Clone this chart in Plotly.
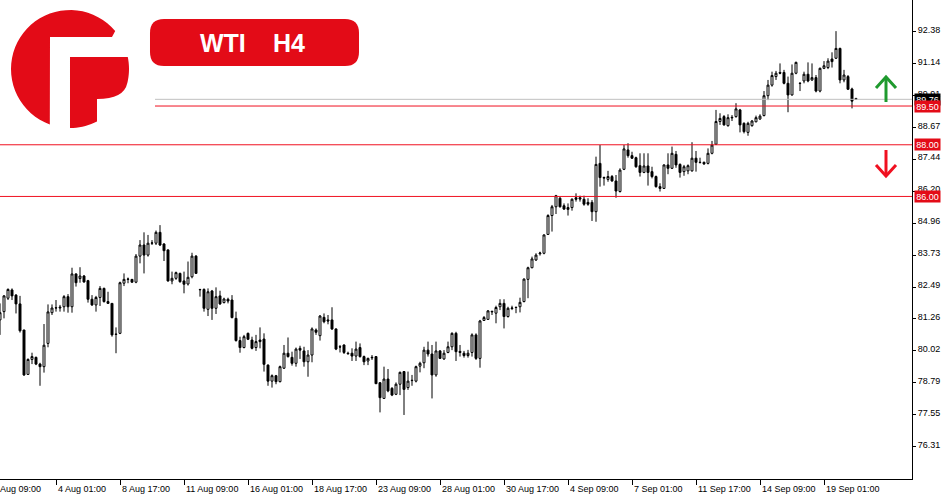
import numpy as np
import plotly.graph_objects as go

W, H = 950, 500

# ---------------- data (H4 candles, 1 Aug 17:00 .. 20 Sep 09:00) ----------------
candle_index = list(range(2, 217))
opens = [81.22,81.54,82.06,82.38,82.18,81.84,80.83,79.11,79.69,79.77,79.51,79.41,80.31,81.50,81.68,81.68,81.73,82.12,81.73,83.00,
         82.82,82.92,82.74,82.02,81.80,82.09,82.44,81.93,81.86,80.67,80.70,82.64,82.79,82.79,82.68,83.69,84.12,83.73,84.19,84.19,
         84.61,84.16,83.93,82.73,82.83,83.02,82.73,82.61,82.89,83.69,82.40,82.40,81.63,82.34,81.67,82.15,81.89,82.02,81.99,81.28,
         80.42,80.15,80.70,80.44,80.15,80.44,80.48,79.47,78.85,79.06,78.83,79.35,79.93,79.77,79.54,80.12,80.02,79.60,79.86,80.83,
         80.61,81.32,81.22,81.22,80.87,80.18,80.25,79.93,79.93,79.82,80.15,79.80,79.63,79.75,79.80,78.79,78.18,78.93,78.57,78.34,
         78.73,79.22,78.60,78.87,78.85,79.43,79.56,80.05,79.90,79.09,80.02,79.71,79.96,80.18,80.70,80.00,79.93,79.84,79.96,80.64,
         79.73,81.20,81.24,81.53,81.48,81.73,81.86,81.35,81.66,81.71,81.73,81.93,82.79,83.24,83.54,83.78,83.80,84.53,85.26,85.60,
         85.93,85.64,85.57,85.57,85.95,85.95,85.89,85.77,85.77,85.41,87.28,86.71,86.66,86.77,86.60,86.19,87.05,87.80,87.58,87.50,
         87.19,86.93,87.18,86.96,86.77,86.38,86.31,87.22,87.09,87.63,87.24,86.96,86.99,86.99,87.48,87.31,87.32,87.28,87.67,88.02,
         88.90,89.09,88.74,89.04,89.09,89.35,88.83,88.48,88.74,88.89,89.00,89.13,89.90,90.31,90.64,90.80,90.80,90.38,89.93,90.77,
         90.37,90.47,90.73,90.51,90.60,90.08,90.96,90.99,91.32,91.35,91.73,90.51,90.64,90.16,89.79]
highs = [81.86,82.18,82.44,82.44,82.22,82.15,80.83,79.73,79.95,79.80,79.56,81.06,81.82,81.82,81.99,81.80,82.18,82.22,83.24,83.02,
         83.26,82.96,82.77,82.18,82.15,82.53,82.47,82.31,81.87,80.93,82.70,83.02,82.86,82.80,83.77,84.31,84.61,84.51,84.31,84.68,
         84.89,84.19,83.95,83.09,83.09,83.05,83.09,83.48,83.82,83.73,82.42,82.44,82.44,82.38,82.48,82.35,82.08,82.08,82.18,81.54,
         80.57,80.64,80.73,80.57,80.64,80.93,80.70,79.50,79.11,79.09,79.45,80.25,80.54,79.99,80.15,80.22,80.18,80.05,80.93,80.89,
         81.41,81.47,81.41,81.71,80.89,80.25,80.27,79.99,80.12,80.38,80.31,79.84,79.76,79.86,79.82,78.80,79.41,79.32,78.62,78.80,
         79.22,79.24,79.22,79.09,79.45,79.60,80.18,80.38,80.25,80.38,80.05,80.05,80.38,80.74,80.76,80.25,80.02,80.06,80.70,80.70,
         81.22,81.37,81.60,81.57,81.77,82.02,82.02,81.73,81.77,81.73,82.08,82.83,83.28,83.67,83.80,83.86,84.53,85.31,85.67,86.06,
         85.99,85.73,85.73,85.93,86.12,86.03,86.03,85.93,85.86,87.54,87.99,86.77,86.99,86.83,86.83,87.09,87.99,88.06,87.73,87.54,
         87.67,87.67,87.67,87.15,86.81,86.51,87.24,87.67,87.93,87.76,87.28,87.22,87.24,88.10,87.76,87.50,87.35,87.86,88.15,89.35,
         89.22,89.15,89.18,89.15,89.61,89.39,88.87,88.89,88.96,89.13,89.18,90.08,90.51,90.83,90.86,91.15,90.90,90.64,91.11,91.22,
         90.42,90.83,91.19,91.15,90.70,90.99,91.24,91.35,91.58,92.40,91.76,90.90,90.70,90.21,89.82]
lows = [80.64,81.28,81.99,81.99,81.47,80.73,79.05,79.09,79.51,79.47,78.67,79.18,80.16,81.41,81.54,81.54,81.54,81.50,81.50,82.51,
        82.66,82.66,81.89,81.76,81.54,81.76,81.89,81.85,80.57,79.93,80.67,82.53,82.64,82.66,82.64,83.41,83.02,83.67,84.12,84.12,
        84.08,83.50,82.70,82.60,82.77,82.66,82.25,82.55,82.83,83.01,82.12,81.54,81.37,81.22,81.45,81.80,81.86,81.86,81.28,80.38,
        79.95,80.12,80.44,80.08,80.02,80.12,79.22,78.67,78.60,78.73,78.80,79.32,79.76,79.45,79.41,79.71,79.41,79.02,79.58,80.64,
        80.42,81.09,81.05,80.83,80.05,79.96,79.90,79.89,79.63,79.63,79.76,79.47,79.47,79.67,78.74,77.64,78.17,78.42,78.27,78.31,
        78.31,77.54,78.51,78.67,78.80,79.19,79.35,79.80,78.18,79.02,79.71,79.67,79.93,80.05,79.63,79.80,79.76,79.76,79.80,79.67,
        79.37,81.18,81.22,81.41,81.09,81.60,80.89,81.31,81.60,81.48,81.51,81.90,82.06,83.22,83.50,83.71,83.76,84.51,84.64,85.32,
        85.57,85.48,85.26,85.45,85.80,85.80,85.64,85.64,85.05,85.02,86.38,86.42,86.57,86.57,85.95,86.15,87.02,87.50,87.45,87.11,
        86.77,86.90,86.42,86.70,86.34,86.19,86.29,86.86,87.06,87.11,86.73,86.80,86.86,86.96,86.96,87.28,87.22,87.24,87.63,87.99,
        88.77,88.74,88.70,88.92,89.05,88.48,88.44,88.35,88.70,88.87,88.96,89.10,89.73,90.25,90.51,90.73,90.34,89.26,89.90,90.73,
        90.08,90.38,90.42,90.47,90.03,90.03,90.93,90.93,90.99,91.32,90.38,90.42,90.12,89.41,89.74]
closes = [81.50,82.15,82.40,82.15,81.84,80.80,79.09,79.69,79.80,79.51,79.41,80.24,81.53,81.68,81.69,81.71,82.12,81.73,83.00,82.66,
          82.92,82.69,82.02,81.80,82.09,82.44,81.93,81.86,80.64,80.66,82.66,82.79,82.80,82.68,83.69,84.12,83.73,84.19,84.20,84.61,
          84.12,83.90,82.73,82.83,83.05,82.70,82.60,82.87,83.69,83.02,82.39,81.67,82.31,81.67,82.12,81.84,82.03,81.95,81.31,80.42,
          80.15,80.57,80.47,80.12,80.38,80.38,79.50,78.85,79.06,78.83,79.41,79.93,79.80,79.54,80.09,80.05,79.60,79.86,80.87,80.74,
          81.37,81.15,81.18,80.87,80.09,80.17,79.96,79.91,79.82,80.09,79.80,79.60,79.73,79.77,78.75,78.21,78.93,78.47,78.31,78.73,
          79.19,78.53,78.85,78.88,79.41,79.54,80.05,79.90,79.09,80.02,79.73,79.93,80.18,80.70,79.99,79.96,79.84,79.93,80.64,79.73,
          81.18,81.31,81.57,81.55,81.70,81.86,81.35,81.67,81.68,81.70,81.90,82.80,83.24,83.58,83.73,83.81,84.51,85.26,85.60,86.03,
          85.60,85.51,85.50,85.89,85.89,85.90,85.70,85.70,85.41,87.24,86.73,86.73,86.77,86.60,86.21,87.02,87.84,87.58,87.48,87.15,
          86.93,87.18,86.93,86.77,86.38,86.31,87.22,87.09,87.67,87.22,86.93,87.15,87.19,87.48,87.32,87.32,87.26,87.67,87.99,88.90,
          89.02,88.77,89.05,89.06,89.39,88.77,88.51,88.83,88.92,89.05,89.11,89.90,90.31,90.68,90.77,90.77,90.38,89.93,90.77,91.19,
          90.38,90.73,90.47,90.60,90.08,90.96,91.06,91.24,91.22,91.73,90.51,90.70,90.15,89.69,89.76]

time_tick_index = [0, 16, 32, 48, 64, 80, 96, 112, 128, 144, 160, 176, 192, 208]
time_tick_labels = ["1 Aug 09:00", "4 Aug 01:00", "8 Aug 17:00", "11 Aug 09:00", "16 Aug 01:00",
                    "18 Aug 17:00", "23 Aug 09:00", "28 Aug 01:00", "30 Aug 17:00", "4 Sep 09:00",
                    "7 Sep 01:00", "11 Sep 17:00", "14 Sep 09:00", "19 Sep 01:00"]
price_ticks = [92.38, 91.14, 89.91, 88.67, 87.44, 86.20, 84.96, 83.73, 82.49, 81.26, 80.02, 78.79, 77.55, 76.31]
price_tick_labels = ["%.2f" % v for v in price_ticks]

level_lines = [88.00, 86.00]          # red support/resistance lines (full width)
target_level = 89.50                  # red line
bid_price = closes[-1]                # current price line (grey)

# ---------------- styling helpers ----------------
RED = "#e30b17"
LINE_RED = "#f01020"
FONT = "Liberation Sans, Arial, sans-serif"
X_END = 912 / W                       # plot area right edge (paper)
Y_BOT = 21 / H                        # plot area bottom (paper)


def P(x, y):
    return f"{x / W:.5f},{1 - y / H:.5f}"


def arc(cx, cy, r, a0, a1, n=40):
    pts = []
    for a in np.linspace(np.radians(a0), np.radians(a1), n):
        pts.append(P(cx + r * np.cos(a), cy - r * np.sin(a)))
    return pts


fig = go.Figure()
fig.add_trace(go.Candlestick(
    x=candle_index, open=opens, high=highs, low=lows, close=closes,
    increasing=dict(line=dict(color="black", width=1), fillcolor="white"),
    decreasing=dict(line=dict(color="black", width=1), fillcolor="black"),
    whiskerwidth=0, showlegend=False, hoverinfo="skip"))

shapes = []
for lv in level_lines:
    shapes.append(dict(type="line", xref="paper", yref="y", x0=0, x1=X_END, y0=lv, y1=lv,
                       line=dict(color=LINE_RED, width=1)))
shapes.append(dict(type="line", xref="paper", yref="y", x0=155 / W, x1=X_END, y0=bid_price, y1=bid_price,
                   line=dict(color="#c0c0c0", width=1)))
shapes.append(dict(type="line", xref="paper", yref="y", x0=155 / W, x1=X_END, y0=target_level, y1=target_level,
                   line=dict(color=LINE_RED, width=1)))

# logo: red disc with an "F" cut
cx, cy, r = 70, 69, 59
c_path = "M " + " L ".join(arc(cx, cy, r, 40, 250)) + f" L {P(50, 37)} L {P(112, 37)} Z"
f_pts = [P(70, 57)] + arc(cx, cy, r, 11.7, -13.7, 15)
f_path = ("M " + " L ".join(f_pts) + f" Q {P(124, 99)} {P(97, 99)} L {P(97, 121.5)} L "
          + " L ".join(arc(cx, cy, r, -62.8, -90, 10)) + f" L {P(70, 57)} Z")
for pth in (c_path, f_path):
    shapes.append(dict(type="path", xref="paper", yref="paper", path=pth,
                       fillcolor=RED, line=dict(width=0)))

# title pill
x0, x1, y0, y1, rr = 150, 359, 19, 66, 14
pill = (f"M {P(x0 + rr, y0)} L {P(x1 - rr, y0)} Q {P(x1, y0)} {P(x1, y0 + rr)} L {P(x1, y1 - rr)} "
        f"Q {P(x1, y1)} {P(x1 - rr, y1)} L {P(x0 + rr, y1)} Q {P(x0, y1)} {P(x0, y1 - rr)} "
        f"L {P(x0, y0 + rr)} Q {P(x0, y0)} {P(x0 + rr, y0)} Z")
shapes.append(dict(type="path", xref="paper", yref="paper", path=pill, fillcolor=RED, line=dict(width=0)))

# arrows
GREEN = "#1f9a2e"
shapes.append(dict(type="path", xref="paper", yref="paper", path=f"M {P(886, 102)} L {P(886, 78)}",
                   line=dict(color=GREEN, width=3)))
shapes.append(dict(type="path", xref="paper", yref="paper", path=f"M {P(876, 88)} L {P(886, 77)} L {P(896, 88)}",
                   line=dict(color=GREEN, width=3)))
shapes.append(dict(type="path", xref="paper", yref="paper", path=f"M {P(886, 150)} L {P(886, 175)}",
                   line=dict(color=LINE_RED, width=3)))
shapes.append(dict(type="path", xref="paper", yref="paper", path=f"M {P(876, 165)} L {P(886, 176)} L {P(896, 165)}",
                   line=dict(color=LINE_RED, width=3)))

annotations = []
# time labels, left-aligned at their tick like the terminal
for k, lab in zip(time_tick_index, time_tick_labels):
    if k < candle_index[0]:
        annotations.append(dict(xref="paper", x=0, xshift=-9, yref="paper", y=1 - 482 / H,
                                xanchor="left", yanchor="top", text=lab, showarrow=False,
                                font=dict(family=FONT, size=9, color="black")))
    else:
        annotations.append(dict(xref="x", x=k, xshift=0, yref="paper", y=1 - 482 / H,
                                xanchor="left", yanchor="top", text=lab, showarrow=False,
                                font=dict(family=FONT, size=9, color="black")))

# price tags on the right axis
for val, bg in ((bid_price, "black"), (level_lines[0], RED), (level_lines[1], RED), (target_level, RED)):
    annotations.append(dict(xref="paper", x=914 / W, yref="y", y=val, xanchor="left", yanchor="middle",
                            text="%.2f" % val, showarrow=False, bgcolor=bg, width=25, height=11,
                            borderpad=0, font=dict(family=FONT, size=9, color="white")))

# title text
for txt, xc in (("WTI", 223), ("H4", 288.5)):
    annotations.append(dict(xref="paper", yref="paper", x=xc / W, y=1 - 43 / H, xanchor="center",
                            yanchor="middle", text=f"<b>{txt}</b>", showarrow=False,
                            font=dict(family=FONT, size=25, color="white")))

fig.update_layout(
    width=W, height=H, margin=dict(l=0, r=0, t=0, b=0),
    paper_bgcolor="white", plot_bgcolor="white",
    boxgap=0.3, hovermode=False, showlegend=False,
    shapes=shapes, annotations=annotations,
    xaxis=dict(domain=[0, X_END], range=[2, 230], type="linear", rangeslider=dict(visible=False),
               showgrid=False, zeroline=False, showline=True, linecolor="black", linewidth=1,
               tickvals=time_tick_index, ticktext=[""] * len(time_tick_index), ticks="outside",
               ticklen=5, tickcolor="black", showticklabels=False),
    yaxis=dict(domain=[Y_BOT, 1], range=[75.061, 93.605], side="right", showgrid=False, zeroline=False,
               showline=True, linecolor="black", linewidth=1, tickvals=price_ticks, ticktext=price_tick_labels,
               ticks="outside", ticklen=3, tickcolor="black", ticklabelshift=-2,
               tickfont=dict(family=FONT, size=9, color="black")),
)

fig.write_html("out.html", config={"displayModeBar": False},
               post_script="document.body.style.margin='0';document.body.style.overflow='hidden';")
